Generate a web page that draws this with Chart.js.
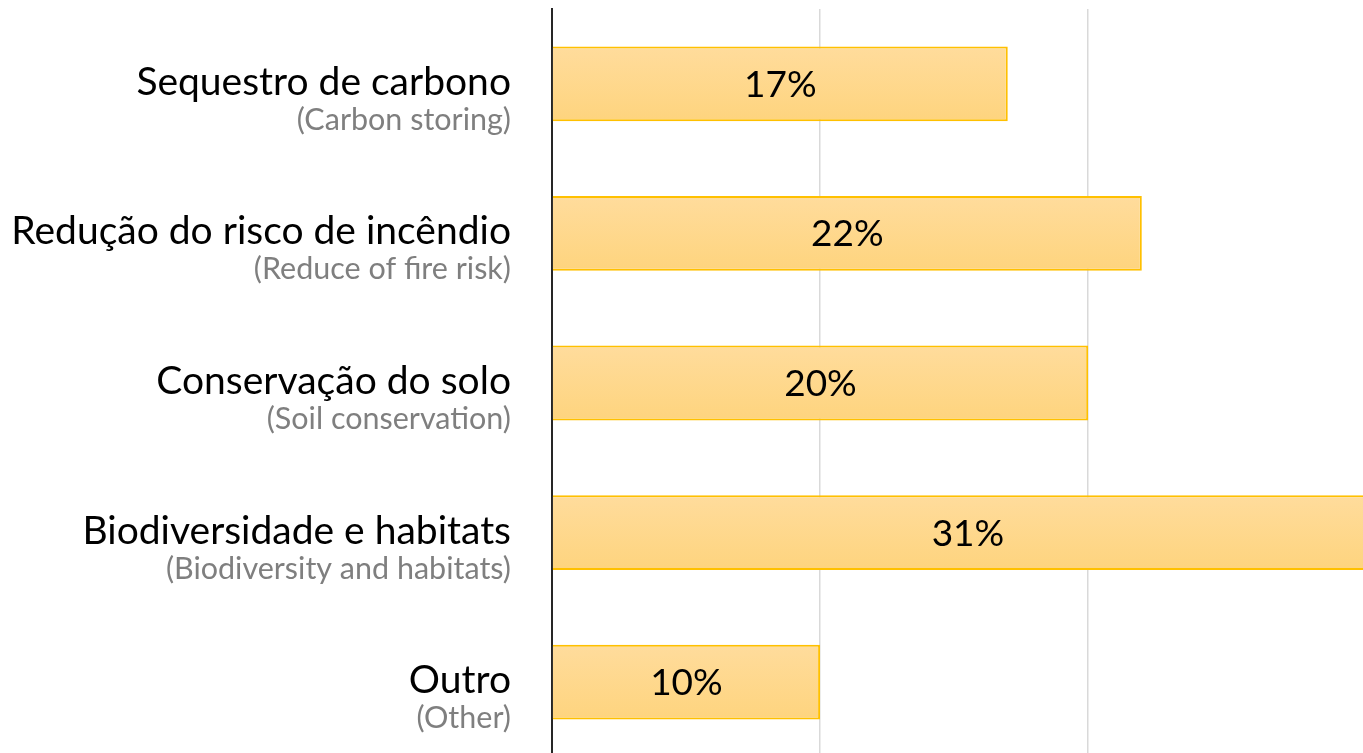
<!DOCTYPE html>
<html>
<head>
<meta charset="utf-8">
<script src="https://cdn.jsdelivr.net/npm/chart.js@4/dist/chart.umd.min.js"></script>
<style>
  html, body { margin: 0; padding: 0; background: #fff; }
  #wrap { width: 1363px; height: 753px; overflow: hidden; }
</style>
</head>
<body>
<div id="wrap"><canvas id="chart" width="1363" height="757"></canvas></div>
<script>
const categories = ['Sequestro de carbono', 'Redução do risco de incêndio', 'Conservação do solo', 'Biodiversidade e habitats', 'Outro'];
const subLabels = ['(Carbon storing)', '(Reduce of fire risk)', '(Soil conservation)', '(Biodiversity and habitats)', '(Other)'];
const shares = [17, 22, 20, 31, 10];

// two-line category labels, main text in black, translation in grey
const categoryLabels = {
  id: 'categoryLabels',
  afterDraw(chart) {
    const ctx = chart.ctx;
    const y = chart.scales.y;
    const right = y.right - 41;
    ctx.save();
    ctx.textAlign = 'right';
    ctx.textBaseline = 'alphabetic';
    categories.forEach((name, i) => {
      const cy = y.getPixelForValue(i);
      ctx.fillStyle = '#000';
      ctx.font = '39px Lato';
      ctx.fillText(name, right, cy + 11);
      ctx.fillStyle = '#7f7f7f';
      ctx.font = '30.5px Lato';
      ctx.fillText(subLabels[i], right, cy + 46);
    });
    ctx.restore();
  }
};

// percentage in the middle of each bar
const barValues = {
  id: 'barValues',
  afterDatasetsDraw(chart) {
    const ctx = chart.ctx;
    const meta = chart.getDatasetMeta(0);
    ctx.save();
    ctx.fillStyle = '#000';
    ctx.font = '37px Lato';
    ctx.textAlign = 'center';
    ctx.textBaseline = 'alphabetic';
    meta.data.forEach((bar, i) => {
      ctx.fillText(shares[i] + '%', (bar.x + bar.base) / 2, bar.y + 13);
    });
    ctx.restore();
  }
};

new Chart(document.getElementById('chart'), {
  type: 'bar',
  data: {
    labels: categories,
    datasets: [{
      data: shares,
      backgroundColor(c) {
        const chart = c.chart;
        if (!chart.chartArea) return '#fed98b';
        const cy = chart.scales.y.getPixelForValue(c.dataIndex);
        const g = chart.ctx.createLinearGradient(0, cy - 37, 0, cy + 37);
        g.addColorStop(0, '#ffdc9c');
        g.addColorStop(1, '#fed47e');
        return g;
      },
      borderColor: '#ffc000',
      borderWidth: 2,
      borderSkipped: 'start',
      barPercentage: 0.5,
      categoryPercentage: 1
    }]
  },
  options: {
    indexAxis: 'y',
    responsive: false,
    animation: false,
    layout: { padding: { top: 9, right: 0, bottom: 0, left: 0 } },
    plugins: {
      legend: { display: false },
      tooltip: { enabled: false }
    },
    scales: {
      x: {
        min: 0,
        max: 30.25,
        ticks: { display: false, stepSize: 10 },
        border: { display: false },
        grid: {
          drawTicks: false,
          lineWidth: 1.5,
          color: c => (c.tick && c.tick.value > 0 && c.tick.value % 10 === 0) ? '#d9d9d9' : 'rgba(0,0,0,0)'
        }
      },
      y: {
        ticks: { display: false },
        grid: { display: false, drawTicks: false },
        border: { display: true, color: '#262626', width: 2 },
        afterFit(scale) { scale.width = 552; }
      }
    }
  },
  plugins: [categoryLabels, barValues]
});
</script>
</body>
</html>
